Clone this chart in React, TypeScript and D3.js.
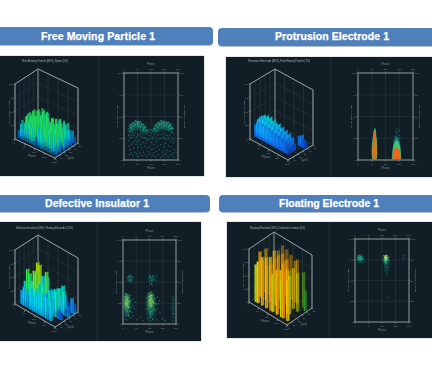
import React from "react";
import * as d3 from "d3";

const titles = ["Free Moving Particle 1", "Protrusion Electrode 1", "Defective Insulator 1", "Floating Electrode 1"];
const subtitles = [
  "Free Moving Particle (86%), Noise (5%)",
  "Protrusion Electrode (88%), Free Moving Particle (7%)",
  "Defective Insulator (49%), Floating Electrode (12%)",
  "Floating Electrode (96%), Defective Insulator (5%)",
];
const phaseTicks = [0, 90, 180, 270, 360];
const ampTicks = [0, 25, 50, 75, 100];
const depthTicks = [0, 10, 20, 30, 40, 50];

// ---- 3D bars: heights per depth row (0 = no bar)
const freePhases = [10, 30, 50, 70, 90, 110, 130, 150, 170, 190, 210, 230, 250, 270, 290, 310, 330, 350];
const freeDepths = [46, 38, 30, 22, 14, 6];
const freeHeights = [
  [16, 27, 24, 34, 30, 33, 20, 27, 14, 18, 30, 24, 32, 27, 32, 20, 22, 12],
  [30, 22, 36, 28, 44, 32, 41, 24, 18, 24, 36, 29, 40, 26, 36, 24, 27, 16],
  [33, 28, 42, 32, 46, 37, 45, 28, 24, 30, 42, 33, 44, 36, 40, 31, 33, 18],
  [30, 38, 33, 46, 36, 50, 35, 40, 20, 28, 46, 31, 48, 33, 44, 28, 37, 22],
  [28, 24, 40, 30, 46, 35, 47, 27, 22, 32, 37, 46, 32, 48, 28, 43, 27, 16],
  [14, 27, 20, 34, 24, 38, 29, 35, 12, 26, 34, 24, 40, 30, 37, 24, 33, 18],
];

const proPhases = [6, 22, 38, 54, 70, 86, 102, 118, 134, 150, 166, 182, 198, 214, 230, 246, 262, 278, 294, 310, 326, 342];
const proDepths = [38, 22, 17, 12];
const proHeights = [
  [0, 0, 0, 0, 0, 0, 0, 0, 0, 0, 0, 0, 0, 0, 0, 0, 0, 0, 16, 20, 12, 9],
  [30, 34, 31, 36, 33, 37, 30, 35, 32, 29, 33, 27, 30, 24, 28, 22, 26, 20, 22, 12, 0, 0],
  [28, 32, 30, 33, 31, 34, 29, 32, 28, 30, 26, 28, 25, 27, 22, 25, 20, 23, 19, 10, 0, 0],
  [22, 26, 24, 27, 25, 28, 24, 26, 23, 25, 21, 23, 20, 22, 18, 21, 17, 19, 15, 8, 0, 0],
];

const insPhases = [12, 32, 52, 72, 92, 112, 132, 152, 172, 192, 212, 232, 252, 272, 292, 312, 332, 352];
const insDepths = [44, 32, 20, 8];
const insHeights = [
  [28, 0, 34, 36, 24, 38, 20, 0, 18, 0, 30, 16, 40, 24, 14, 0, 26, 18],
  [20, 30, 44, 68, 66, 38, 28, 60, 22, 0, 34, 38, 30, 44, 30, 42, 14, 20],
  [34, 58, 52, 40, 62, 60, 42, 28, 46, 30, 22, 42, 26, 30, 46, 16, 12, 0],
  [0, 26, 34, 30, 24, 38, 30, 42, 32, 36, 40, 28, 38, 24, 36, 0, 0, 0],
];

const floPhases = [10, 30, 50, 70, 90, 110, 130, 150, 170, 190, 210, 230, 250, 270, 290, 310, 330, 350];
const floDepths = [44, 32, 20, 8];
const floHeights = [
  [0, 72, 0, 78, 0, 92, 66, 90, 0, 84, 0, 78, 82, 0, 0, 66, 0, 0],
  [82, 0, 70, 0, 88, 0, 84, 0, 92, 0, 86, 66, 0, 76, 0, 72, 0, 0],
  [84, 76, 0, 80, 0, 86, 0, 88, 64, 0, 74, 88, 0, 82, 72, 0, 0, 0],
  [0, 70, 78, 0, 84, 0, 80, 0, 86, 72, 0, 84, 0, 70, 86, 0, 76, 0],
];
const floGreenPhase = [344];
const floGreenDepth = [40];
const floGreenHeight = [38];

// ---- scatter points: [phase, amplitude]
const freeHot: number[][] = [
  [38,39],[46,41],[54,41],[62,43],[70,42],[78,45],[86,43],[94,44],[102,42],[110,44],[118,41],[126,41],[134,38],[142,37],[150,34],
  [48,37],[60,39],[74,40],[90,41],[100,39],[114,38],[130,35],
  [202,36],[212,40],[220,41],[228,43],[238,42],[246,45],[254,43],[262,44],[270,42],[278,44],[286,42],[294,43],[302,40],[310,40],[318,37],[326,36],
  [222,38],[236,40],[250,41],[266,39],[282,40],[296,38],[310,36],
];
const freeDim: number[][] = [
  [28,36],[34,33],[30,28],[36,30],[42,34],[52,33],[58,36],[66,38],[72,35],[82,38],[88,35],[96,38],[106,36],[112,33],[122,36],[130,32],[138,33],[146,30],[154,31],[160,28],[166,32],
  [158,33],[166,35],[174,34],[182,35],[190,34],[196,36],
  [32,22],[40,25],[46,28],[54,26],[60,30],[68,28],[76,31],[84,27],[92,30],[100,28],[108,30],[116,27],[124,29],[132,26],[140,25],[148,24],[156,22],[164,24],
  [34,16],[42,12],[50,18],[58,20],[64,14],[72,22],[80,18],[88,21],[96,15],[104,22],[112,18],[120,14],[128,20],[136,16],[144,19],[152,14],[160,10],[168,15],
  [36,6],[48,8],[60,5],[70,9],[82,7],[94,4],[106,8],[118,5],[130,9],[142,6],[154,4],[166,7],
  [176,28],[182,31],[188,26],[194,33],[200,30],[206,34],[214,36],[224,34],[232,37],[240,36],[248,38],[258,36],[268,38],[276,35],[288,37],[298,34],[306,36],[316,32],[324,32],[332,30],
  [184,20],[192,24],[200,18],[208,26],[216,22],[224,28],[232,24],[240,29],[248,25],[256,30],[264,26],[272,29],[280,24],[288,28],[296,25],[304,28],[312,22],[320,25],[328,20],[336,23],
  [188,12],[198,8],[206,14],[216,10],[226,16],[236,12],[246,18],[256,9],[266,15],[276,19],[286,11],[296,16],[306,10],[316,15],[326,8],[336,12],
  [194,5],[210,4],[228,6],[244,3],[260,5],[278,7],[294,4],[312,6],[330,4],[346,9],
];

const insHot: number[][] = [
  [18,26],[24,22],[28,29],[32,24],[36,20],[22,32],[40,27],[14,24],
  [176,28],[184,24],[190,30],[196,22],[202,27],[180,33],[188,20],[208,25],[194,34],
];
const insMid: number[][] = [
  [8,30],[12,33],[16,36],[26,35],[34,33],[44,31],[50,26],[10,20],[20,17],[30,15],[42,20],[48,15],[38,10],[22,10],
  [164,32],[170,36],[180,37],[192,38],[204,34],[216,30],[224,24],[168,22],[174,18],[182,14],[196,15],[210,18],[220,16],[186,8],[200,6],
  [40,56],[48,52],[52,57],[186,56],[196,52],[204,57],[192,48],
];
const insDim: number[][] = [
  [30,55],[36,51],[44,58],[58,53],[66,56],[60,50],[170,54],[178,58],[180,50],[212,54],[222,52],[198,46],[228,57],
  [4,36],[54,34],[60,28],[66,22],[72,30],[56,20],[64,14],[6,14],[4,8],[14,6],[28,5],[44,7],[58,8],[70,10],[78,18],[82,26],
  [156,30],[160,26],[156,18],[160,12],[164,7],[172,5],[190,4],[208,5],[218,8],[228,12],[234,18],[240,24],[236,32],[246,28],[250,14],[230,5],
  [100,5],[120,8],[136,4],[268,6],[286,4],
  [338,33],[340,28],[338,24],[342,20],[340,16],[338,12],[342,8],[340,4],[344,30],[336,18],[344,12],
];

const floHot: number[][] = [[204,78],[208,76],[202,75],[206,80],[212,77],[198,78]];
const floMid: number[][] = [
  [20,78],[26,80],[32,77],[38,79],[44,76],[24,75],[36,74],[50,76],
  [192,80],[196,74],[216,80],[220,75],[210,72],[204,70],[200,73],[226,78],
];
const floDim: number[][] = [
  [16,74],[28,72],[42,72],[54,78],[60,74],[66,72],[48,72],
  [188,76],[230,74],[234,70],[214,68],[206,66],[218,64],[200,62],[212,60],[208,57],[222,66],[196,67],
  [226,30],[324,80],[326,76],[322,78],
];

// soft density patches: [phase, amplitude, phase radius, amplitude radius]
const freeGlow: number[][] = [[50,36,16,5],[90,40,26,5],[132,36,18,5],[215,36,18,5],[255,40,26,5],[300,38,24,5]];
const insGlowLow: number[][] = [[28,23,24,14],[190,23,28,15]];
const insGlowHot: number[][] = [[25,26,11,8],[188,28,13,8]];
const insGlowHigh: number[][] = [[48,54,18,4],[195,54,18,4],[340,18,4,15]];
const floGlow: number[][] = [[34,77,18,3.5],[206,75,15,5]];
const floGlowTail: number[][] = [[212,65,8,7]];
const floGlowHot: number[][] = [[205,77,6,3]];

// envelopes of the dense protrusion clouds: [amplitude, low phase, high phase]
const proLeftOuter: number[][] = [[0,94,122],[6,90,126],[14,90,126],[22,94,124],[28,98,120],[33,102,118],[36,106,114],[37,109,112]];
const proLeftGreen: number[][] = [[1,95,121],[6,92,124],[14,92,124],[22,96,122],[28,100,118],[33,104,116],[35,107,113]];
const proLeftCore: number[][] = [[1,98,118],[6,95,122],[14,95,121],[22,98,120],[28,102,116],[32,106,114]];
const proRightOuter: number[][] = [[0,220,284],[6,222,282],[12,226,280],[18,230,276],[23,236,270],[26,244,262],[27,250,256]];
const proRightGreen: number[][] = [[1,224,281],[6,225,280],[12,228,278],[17,234,272],[20,240,266],[22,248,258]];
const proRightCore: number[][] = [[1,226,279],[5,227,278],[9,230,274],[12,236,268],[14,244,260]];
const proRightDim: number[][] = [[246,33],[256,36],[262,32],[270,34],[250,30],[268,28],[240,27],[274,25]];

// ---- layout
const layouts = [
  { bar: [-8, 27, 221, 18], title: [41, 40, 114], dark: [-4, 56, 208, 120], div: 99, sub: [22, 62, 46],
    lb: [15, 139], f: [55, 158], rb: [78, 143], zPx: 55, frame: [124, 178, 73, 160], cm: 1.45, maxC: 58 },
  { bar: [218, 28, 222, 18], title: [275, 40, 114], dark: [226, 57, 212, 120], div: 331, sub: [248, 62, 62],
    lb: [250, 139], f: [288, 160], rb: [313, 145], zPx: 55, frame: [358, 413, 73, 160], cm: 1.05, maxC: 100 },
  { bar: [-8, 195, 218, 17], title: [45, 207, 104], dark: [-4, 222, 205, 119], div: 97, sub: [16, 229, 57],
    lb: [15, 304], f: [55, 327], rb: [78, 312], zPx: 54, frame: [123, 176, 240, 324], cm: 1.04, maxC: 70 },
  { bar: [219, 195, 222, 17], title: [279, 207, 100], dark: [227, 222, 212, 116], div: 329, sub: [250, 229, 55],
    lb: [249, 302], f: [287, 325], rb: [312, 308], zPx: 53, frame: [355, 409, 239, 322], cm: 1, maxC: 86 },
];

const barSets = [
  { phases: freePhases, depths: freeDepths, heights: freeHeights, base: "#0a4cc8", halfP: 3.6, halfD: 1.3, fade: 0.9 },
  { phases: proPhases, depths: proDepths, heights: proHeights, base: "#0f55d8", halfP: 8, halfD: 3, fade: 1 },
  { phases: insPhases, depths: insDepths, heights: insHeights, base: "#00a0e8", halfP: 7.5, halfD: 2.2, fade: 0.9 },
  { phases: floPhases, depths: floDepths, heights: floHeights, base: "", halfP: 6.5, halfD: 1.8, fade: 0.5 },
];

const heightColor = d3
  .scaleLinear<string>()
  .domain([0, 20, 30, 40, 50, 60, 68, 76, 86, 100])
  .range(["#0a30c0", "#0a70f0", "#10b0ff", "#00e0e0", "#10f090", "#38f048", "#a0e010", "#ffd010", "#ffa000", "#ff6a00"]);

const clouds = [
  [{ pts: freeDim, c: "#147068" }, { pts: freeHot, c: "#28b894" }],
  [{ pts: proRightDim, c: "#167a70" }],
  [{ pts: insDim, c: "#147068" }, { pts: insMid, c: "#24a484" }, { pts: insHot, c: "#98d868" }],
  [{ pts: floDim, c: "#115f5a" }, { pts: floMid, c: "#20a88a" }, { pts: floHot, c: "#d8e848" }],
];
const glows = [
  [{ e: freeGlow, c: "#1f9c88", o: 0.5 }],
  [],
  [{ e: insGlowHigh, c: "#148070", o: 0.45 }, { e: insGlowLow, c: "#22a07c", o: 0.55 }, { e: insGlowHot, c: "#a0dc50", o: 0.7 }],
  [{ e: floGlowTail, c: "#106860", o: 0.5 }, { e: floGlow, c: "#1cb090", o: 0.85 }, { e: floGlowHot, c: "#f0f040", o: 1 }],
];

const line = d3.line();
const poly = (pts: [number, number][]) => line(pts) + "Z";
const labelFill = "#7f8a8c";

function Chart3D({ i }: { i: number }) {
  const L = layouts[i];
  const S = barSets[i];
  const sx = d3.scaleLinear().domain([0, 360]).range([0, 1]);
  const sd = d3.scaleLinear().domain([0, 50]).range([0, 1]);
  const sz = d3.scaleLinear().domain([0, 100]).range([0, L.zPx]);
  const proj = (p: number, d: number, z: number): [number, number] => [
    L.lb[0] + sx(p) * (L.f[0] - L.lb[0]) + sd(d) * (L.rb[0] - L.f[0]),
    L.lb[1] + sx(p) * (L.f[1] - L.lb[1]) + sd(d) * (L.rb[1] - L.f[1]) - sz(z),
  ];
  const grid = "#2c3c42";
  const frame = "#98a2a4";
  const bars: React.ReactNode[] = [];
  const ramp = [0.3, 0.8, 1];
  const drawBar = (p: number, d: number, h: number, rowT: number, key: string, fixed?: string) => {
    const top = fixed ?? heightColor(Math.min(h * L.cm, L.maxC));
    const steps = [0, 0.2, 0.4, 1];
    const op = S.fade + (1 - S.fade) * rowT;
    for (let s = 0; s < steps.length - 1; s++) {
      const z0 = steps[s] * h;
      const z1 = steps[s + 1] * h;
      const col = S.base && !fixed ? d3.interpolateRgb(S.base, top)(ramp[s]) : top;
      const dark = d3.rgb(col).darker(0.55).formatRgb();
      const p0 = p - S.halfP, p1 = p + S.halfP, d0 = d - S.halfD, d1 = d + S.halfD;
      bars.push(
        <path key={key + "a" + s} fillOpacity={op} fill={col}
          d={poly([proj(p0, d0, z0), proj(p1, d0, z0), proj(p1, d0, z1 + 0.5), proj(p0, d0, z1 + 0.5)])} />,
        <path key={key + "b" + s} fillOpacity={op} fill={dark}
          d={poly([proj(p1, d0, z0), proj(p1, d1, z0), proj(p1, d1, z1 + 0.5), proj(p1, d0, z1 + 0.5)])} />
      );
    }
  };
  S.depths.forEach((d, r) => {
    S.phases.forEach((p, c) => {
      const h = S.heights[r][c];
      if (h > 0) drawBar(p, d, h, r / Math.max(1, S.depths.length - 1), `${r}-${c}`);
    });
    if (i === 3 && r === 0)
      floGreenPhase.forEach((p, k) => drawBar(p, floGreenDepth[k], floGreenHeight[k], 1, "g" + k, "#2f8f2a"));
  });
  const front0 = proj(0, 0, 0);
  const front1 = proj(360, 0, 0);
  const right1 = proj(360, 50, 0);
  return (
    <g>
      {ampTicks.map((a) => (
        <g key={a}>
          <path d={line([proj(0, 0, a), proj(0, 50, a), proj(360, 50, a)])!} fill="none" stroke={grid} strokeWidth={0.5} />
          <path d={line([proj(0, 0, a), [proj(0, 0, a)[0] - 1.5, proj(0, 0, a)[1]]])!} stroke={frame} strokeWidth={0.5} />
          <text x={proj(0, 0, a)[0] - 2} y={proj(0, 0, a)[1] + 1} fontSize={2.4} fill={labelFill} textAnchor="end">{a}</text>
        </g>
      ))}
      {phaseTicks.map((p) => (
        <g key={p}>
          <path d={line([proj(p, 0, 0), proj(p, 50, 0), proj(p, 50, 100)])!} fill="none" stroke={grid} strokeWidth={0.5} />
          <path d={line([proj(p, 0, 0), [proj(p, 0, 0)[0] - 0.6, proj(p, 0, 0)[1] + 2]])!} stroke={frame} strokeWidth={0.6} />
          <text x={proj(p, 0, 0)[0] - 1} y={proj(p, 0, 0)[1] + 4.5} fontSize={2.4} fill={labelFill} textAnchor="middle">{p}</text>
        </g>
      ))}
      {depthTicks.map((d) => (
        <g key={d}>
          <path d={line([proj(360, d, 0), proj(0, d, 0), proj(0, d, 100)])!} fill="none" stroke={grid} strokeWidth={0.5} />
          <path d={line([proj(360, d, 0), [proj(360, d, 0)[0] + 1, proj(360, d, 0)[1] + 1.5]])!} stroke={frame} strokeWidth={0.6} />
          <text x={proj(360, d, 0)[0] + 2} y={proj(360, d, 0)[1] + 4} fontSize={2.4} fill={labelFill} textAnchor="middle">{d}</text>
        </g>
      ))}
      <path d={line([proj(0, 50, 0), proj(0, 50, 100)])!} stroke={frame} strokeWidth={0.8} fill="none" />
      <path d={line([proj(0, 0, 0), proj(0, 0, 100), proj(0, 50, 100), proj(360, 50, 100), proj(360, 50, 0)])!} stroke={frame} strokeWidth={1} fill="none" />
      {bars}
      <path d={line([front0, front1, right1])!} stroke={frame} strokeWidth={1} fill="none" />
      <text x={(front0[0] + front1[0]) / 2 - 3} y={(front0[1] + front1[1]) / 2 + 8} fontSize={2.8} fill={labelFill} textAnchor="middle">Phase</text>
      <text x={(front1[0] + right1[0]) / 2 + 4} y={(front1[1] + right1[1]) / 2 + 8} fontSize={2.8} fill={labelFill} textAnchor="middle">Cycle</text>
      <text transform={`translate(${L.lb[0] - 5},${L.lb[1] - 27}) rotate(-90)`} fontSize={2.4} fill={labelFill} textAnchor="middle">Normalized Amplitude</text>
    </g>
  );
}

function Scatter({ i }: { i: number }) {
  const L = layouts[i];
  const [x0, x1, y0, y1] = L.frame;
  const x = d3.scaleLinear().domain([0, 360]).range([x0, x1]);
  const y = d3.scaleLinear().domain([0, 100]).range([y1, y0]);
  const area = d3.area<number[]>().y((d) => y(d[0])).x0((d) => x(d[1])).x1((d) => x(d[2])).curve(d3.curveLinear);
  const frame = "#98a2a2";
  const midY = (y0 + y1) / 2;
  const midX = (x0 + x1) / 2;
  const gridC = "#2c3c42";
  return (
    <g>
      {ampTicks.map((a) => (
        <g key={a}>
          <line x1={x0} x2={x1} y1={y(a)} y2={y(a)} stroke={gridC} strokeWidth={0.5} />
          <line x1={x0 - 1.5} x2={x0} y1={y(a)} y2={y(a)} stroke={frame} strokeWidth={0.5} />
          <line x1={x1} x2={x1 + 1.5} y1={y(a)} y2={y(a)} stroke={frame} strokeWidth={0.5} />
          <text x={x0 - 2} y={y(a) + 1} fontSize={2.4} fill={labelFill} textAnchor="end">{a}</text>
          <text x={x1 + 2} y={y(a) + 1} fontSize={2.4} fill={labelFill}>{a}</text>
        </g>
      ))}
      {phaseTicks.map((p) => (
        <g key={p}>
          <line x1={x(p)} x2={x(p)} y1={y0} y2={y1} stroke={gridC} strokeWidth={0.5} />
          <line x1={x(p)} x2={x(p)} y1={y0 - 1.5} y2={y0} stroke={frame} strokeWidth={0.5} />
          <line x1={x(p)} x2={x(p)} y1={y1} y2={y1 + 1.5} stroke={frame} strokeWidth={0.5} />
          <text x={x(p)} y={y0 - 3} fontSize={2.4} fill={labelFill} textAnchor="middle">{p}</text>
          <text x={x(p)} y={y1 + 5} fontSize={2.4} fill={labelFill} textAnchor="middle">{p}</text>
        </g>
      ))}
      <rect x={x0} y={y0} width={x1 - x0} height={y1 - y0} fill="none" stroke={frame} strokeWidth={0.9} />
      <text x={midX} y={y0 - 8} fontSize={2.8} fill={labelFill} textAnchor="middle">Phase</text>
      <text x={midX} y={y1 + 9} fontSize={2.8} fill={labelFill} textAnchor="middle">Phase</text>
      <text transform={`translate(${x0 - 6},${midY}) rotate(-90)`} fontSize={2.4} fill={labelFill} textAnchor="middle">Normalized Amplitude</text>
      <text transform={`translate(${x1 + 6},${midY}) rotate(90)`} fontSize={2.4} fill={labelFill} textAnchor="middle">Normalized Amplitude</text>
      {glows[i].map((g, k) => (
        <g key={k} fill={g.c} opacity={g.o} filter="url(#glow)">
          {g.e.map((d, j) => (
            <ellipse key={j} cx={x(d[0])} cy={y(d[1])} rx={(x(d[2]) - x(0))} ry={y(0) - y(d[3])} />
          ))}
        </g>
      ))}
      {i === 1 && (
        <g>
          <path d={area(proLeftOuter)!} fill="#169a86" />
          <path d={area(proLeftGreen)!} fill="#58c048" />
          <path d={area(proLeftCore)!} fill="#f2651a" />
          <path d={area(proRightOuter)!} fill="#167a72" />
          <path d={area(proRightGreen)!} fill="#3cc878" />
          <path d={area(proRightCore)!} fill="#f2651a" />
        </g>
      )}
      {clouds[i].map((cl, k) => (
        <g key={k} fill={cl.c}>
          {cl.pts.map((d, j) => (
            <rect key={j} x={x(d[0]) - 0.6} y={y(d[1]) - 0.6} width={1.2} height={1.2} />
          ))}
        </g>
      ))}
    </g>
  );
}

export default function App() {
  return (
    <svg width={432} height={375} viewBox="0 0 432 375"
      style={{ position: "absolute", left: 0, top: 0, display: "block", background: "#fff", fontFamily: "'Liberation Sans', Arial, sans-serif" }}>
      <defs>
        <filter id="soft" x="-5%" y="-5%" width="110%" height="110%">
          <feGaussianBlur stdDeviation={0.4} />
        </filter>
        <filter id="glow" x="-40%" y="-40%" width="180%" height="180%">
          <feGaussianBlur stdDeviation={1.1} />
        </filter>
      </defs>
      {layouts.map((L, i) => (
        <g key={i}>
          <rect x={L.bar[0]} y={L.bar[1] + 1} width={L.bar[2]} height={L.bar[3]} rx={4} fill="#b4c2d2" />
          <rect x={L.bar[0]} y={L.bar[1]} width={L.bar[2]} height={L.bar[3]} rx={4} fill="#4f80bc" />
          <text x={L.title[0]} y={L.title[1]} textLength={L.title[2]} lengthAdjust="spacing" fontSize={10.5} fontWeight={700} fill="#fff"
            stroke="#fff" strokeWidth={0.25}>{titles[i]}</text>
          <rect x={L.dark[0] - 1} y={L.dark[1] - 1} width={L.dark[2] + 2} height={L.dark[3] + 2} fill="#e2eaf0" />
          <rect x={L.dark[0]} y={L.dark[1]} width={L.dark[2]} height={L.dark[3]} fill="#111e26" />
          <line x1={L.div} x2={L.div} y1={L.dark[1]} y2={L.dark[1] + L.dark[3]} stroke="#21393f" strokeWidth={0.8} />
          <g filter="url(#soft)">
            <text x={L.sub[0]} y={L.sub[1]} textLength={L.sub[2]} lengthAdjust="spacingAndGlyphs" fontSize={3.2} fill="#aab4b6">{subtitles[i]}</text>
            <Chart3D i={i} />
            <Scatter i={i} />
          </g>
        </g>
      ))}
    </svg>
  );
}
